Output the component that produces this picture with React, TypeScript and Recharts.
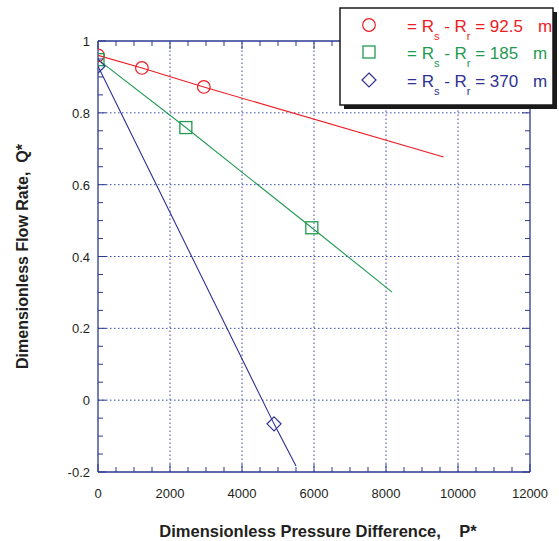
import React from 'react';
import { ComposedChart, Scatter, XAxis, YAxis, ReferenceLine, Legend } from 'recharts';

// ---- data ----
const redX = [0, 1220, 2940, 9600];
const redY = [0.96, 0.925, 0.872, 0.677];
const redMark = [true, true, true, false];

const greenX = [0, 2440, 5940, 8170];
const greenY = [0.948, 0.759, 0.48, 0.301];
const greenMark = [true, true, true, false];

const blueX = [0, 4890, 5500];
const blueY = [0.93, -0.066, -0.183];
const blueMark = [true, true, false];

const xMajorTicks = [0, 2000, 4000, 6000, 8000, 10000, 12000];
const xAllTicks = [0, 500, 1000, 1500, 2000, 2500, 3000, 3500, 4000, 4500, 5000, 5500, 6000, 6500, 7000, 7500, 8000, 8500, 9000, 9500, 10000, 10500, 11000, 11500, 12000];
const yMajorTicks = [-0.2, 0, 0.2, 0.4, 0.6, 0.8, 1];
const yAllTicks = [-0.2, -0.15, -0.1, -0.05, 0, 0.05, 0.1, 0.15, 0.2, 0.25, 0.3, 0.35, 0.4, 0.45, 0.5, 0.55, 0.6, 0.65, 0.7, 0.75, 0.8, 0.85, 0.9, 0.95, 1];
const xGrid = [2000, 4000, 6000, 8000, 10000];
const yGrid = [0, 0.2, 0.4, 0.6, 0.8];

const legendValues = ['92.5', '185', '370'];
const legendUnit = 'm';
const xTitle = 'Dimensionless Pressure Difference,    P*';
const yTitle = 'Dimensionless Flow Rate,  Q*';

// ---- style ----
const FONT = '"Liberation Sans", Arial, Helvetica, sans-serif';
const AXIS = '#2b3990';
const GRID = '#3a46a8';
const TEXT = '#231f20';
const RED = '#ed1c24';
const GREEN = '#1f9a50';
const BLUE = '#2e3192';

const build = (xs: number[], ys: number[], ms: boolean[]) =>
  xs.map((x, i) => ({ x, y: ys[i], m: ms[i] }));

const redData = build(redX, redY, redMark);
const greenData = build(greenX, greenY, greenMark);
const blueData = build(blueX, blueY, blueMark);

const Marker = (kind: string, color: string) => (props: any) => {
  const { cx, cy, payload } = props;
  if (!payload || !payload.m || cx == null || cy == null) return <g />;
  if (kind === 'circle') {
    return <circle cx={cx} cy={cy} r={6.3} fill="none" stroke={color} strokeWidth={1.2} />;
  }
  if (kind === 'square') {
    return <rect x={cx - 6} y={cy - 6} width={12} height={12} fill="none" stroke={color} strokeWidth={1.3} />;
  }
  return (
    <polygon
      points={`${cx},${cy - 7} ${cx + 7},${cy} ${cx},${cy + 7} ${cx - 7},${cy}`}
      fill="none"
      stroke={color}
      strokeWidth={1.2}
    />
  );
};

const Nothing = () => <g />;

const BottomTick = (props: any) => {
  const { x, y, payload } = props;
  const major = xMajorTicks.includes(payload.value);
  return (
    <g>
      <line x1={x} x2={x} y1={y} y2={y - (major ? 8 : 5)} stroke={AXIS} strokeWidth={1} />
      {major && (
        <text x={x} y={y + 26} textAnchor="middle" fontFamily={FONT} fontSize={13} fill={TEXT}>
          {String(payload.value)}
        </text>
      )}
    </g>
  );
};

const TopTick = (props: any) => {
  const { x, y, payload } = props;
  const major = xMajorTicks.includes(payload.value);
  return <line x1={x} x2={x} y1={y} y2={y + (major ? 8 : 5)} stroke={AXIS} strokeWidth={1} />;
};

const LeftTick = (props: any) => {
  const { x, y, payload } = props;
  const major = yMajorTicks.includes(payload.value);
  return (
    <g>
      <line x1={x} x2={x + (major ? 8 : 5)} y1={y} y2={y} stroke={AXIS} strokeWidth={1} />
      {major && (
        <text x={x - 8} y={y + 5} textAnchor="end" fontFamily={FONT} fontSize={13} fill={TEXT}>
          {String(payload.value)}
        </text>
      )}
    </g>
  );
};

const RightTick = (props: any) => {
  const { x, y, payload } = props;
  const major = yMajorTicks.includes(payload.value);
  return <line x1={x} x2={x - (major ? 8 : 5)} y1={y} y2={y} stroke={AXIS} strokeWidth={1} />;
};

const XTitle = (props: any) => {
  const vb = props.viewBox || {};
  const cx = vb.x + vb.width / 2 + 4;
  return (
    <text x={cx} y={537} textAnchor="middle" fontFamily={FONT} fontSize={16.5} fontWeight="bold" fill={TEXT} style={{ whiteSpace: 'pre' }}>
      {xTitle}
    </text>
  );
};

const YTitle = (props: any) => {
  const vb = props.viewBox || {};
  const cy = vb.y + vb.height / 2;
  return (
    <text
      x={0}
      y={0}
      transform={`translate(28, ${cy}) rotate(-90)`}
      textAnchor="middle"
      fontFamily={FONT}
      fontSize={16}
      fontWeight="bold"
      fill={TEXT}
      style={{ whiteSpace: 'pre' }}
    >
      {yTitle}
    </text>
  );
};

const legendColors = [RED, GREEN, BLUE];
const legendKinds = ['circle', 'square', 'diamond'];

const LegendBox = () => {
  const rows = [25, 52, 80];
  const unitX = [200, 195, 195];
  return (
    <svg width={221} height={112} style={{ display: 'block' }}>
      <rect x={6} y={12} width={213} height={97} fill="#1a1a1a" />
      <rect x={2} y={8} width={213} height={97} fill="#ffffff" stroke="#1a1a1a" strokeWidth={1.5} />
      {rows.map((ry, i) => {
        const color = legendColors[i];
        const sym = Marker(legendKinds[i], color)({ cx: 31, cy: ry, payload: { m: true } });
        return (
          <g key={i}>
            {sym}
            <text x={69} y={ry + 7} fontFamily={FONT} fontSize={17} fill={color} style={{ whiteSpace: 'pre' }}>
              {'= R'}
              <tspan dy={8} fontSize={11}>s</tspan>
              <tspan dy={-8}>{' - R'}</tspan>
              <tspan dy={8} fontSize={11}>r</tspan>
              <tspan dy={-8}>{' = ' + legendValues[i]}</tspan>
            </text>
            <text x={unitX[i]} y={ry + 7} fontFamily={FONT} fontSize={17} fill={color}>
              {legendUnit}
            </text>
          </g>
        );
      })}
    </svg>
  );
};

export default function App() {
  return (
    <div style={{ position: 'absolute', left: 0, top: 0, width: 559, height: 541, background: '#fff' }}>
      <ComposedChart width={559} height={541} margin={{ top: 41, right: 29, bottom: 29, left: 48 }}>
        <XAxis
          xAxisId={0}
          type="number"
          dataKey="x"
          domain={[0, 12000]}
          allowDataOverflow
          ticks={xAllTicks}
          interval={0}
          height={40}
          tickSize={0}
          tickMargin={0}
          tickLine={false}
          axisLine={{ stroke: AXIS, strokeWidth: 1.3 }}
          tick={<BottomTick />}
          label={<XTitle />}
        />
        <XAxis
          xAxisId="top"
          orientation="top"
          mirror
          type="number"
          dataKey="x"
          domain={[0, 12000]}
          allowDataOverflow
          ticks={xAllTicks}
          interval={0}
          tickSize={0}
          tickMargin={0}
          tickLine={false}
          axisLine={{ stroke: AXIS, strokeWidth: 1.3 }}
          tick={<TopTick />}
        />
        <YAxis
          yAxisId={0}
          type="number"
          dataKey="y"
          domain={[-0.2, 1]}
          allowDataOverflow
          ticks={yAllTicks}
          interval={0}
          width={50}
          tickSize={0}
          tickMargin={0}
          tickLine={false}
          axisLine={{ stroke: AXIS, strokeWidth: 1.3 }}
          tick={<LeftTick />}
          label={<YTitle />}
        />
        <YAxis
          yAxisId="right"
          orientation="right"
          mirror
          type="number"
          dataKey="y"
          domain={[-0.2, 1]}
          allowDataOverflow
          ticks={yAllTicks}
          interval={0}
          tickSize={0}
          tickMargin={0}
          tickLine={false}
          axisLine={{ stroke: AXIS, strokeWidth: 1.3 }}
          tick={<RightTick />}
        />
        {xGrid.map((v) => (
          <ReferenceLine key={'gx' + v} x={v} stroke={GRID} strokeDasharray="1.5 2.5" strokeWidth={1} />
        ))}
        {yGrid.map((v) => (
          <ReferenceLine key={'gy' + v} y={v} stroke={GRID} strokeDasharray="1.5 2.5" strokeWidth={1} />
        ))}
        <Scatter
          xAxisId="top"
          yAxisId="right"
          data={redData}
          fill="none"
          shape={<Nothing />}
          legendType="none"
          isAnimationActive={false}
        />
        <Scatter
          data={redData}
          fill="none"
          stroke={RED}
          line={{ stroke: RED, strokeWidth: 1.1 }}
          lineType="joint"
          shape={Marker('circle', RED)}
          isAnimationActive={false}
        />
        <Scatter
          data={greenData}
          fill="none"
          stroke={GREEN}
          line={{ stroke: GREEN, strokeWidth: 1.1 }}
          lineType="joint"
          shape={Marker('square', GREEN)}
          isAnimationActive={false}
        />
        <Scatter
          data={blueData}
          fill="none"
          stroke={BLUE}
          line={{ stroke: BLUE, strokeWidth: 1.1 }}
          lineType="joint"
          shape={Marker('diamond', BLUE)}
          isAnimationActive={false}
        />
        <Legend
          layout="horizontal"
          verticalAlign="middle"
          align="center"
          content={() => <LegendBox />}
          wrapperStyle={{ position: 'absolute', left: 338, top: 0, width: 221, height: 112 }}
        />
      </ComposedChart>
    </div>
  );
}
